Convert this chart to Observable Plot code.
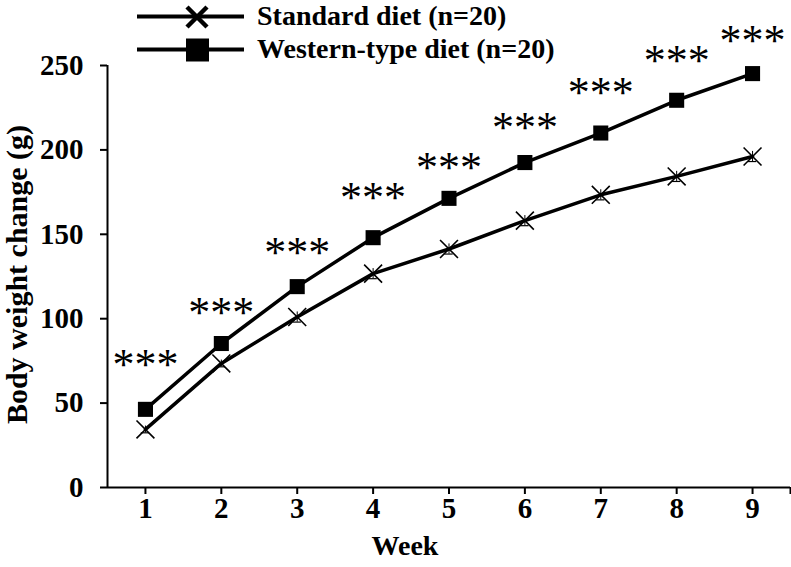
<!DOCTYPE html>
<html><head><meta charset="utf-8">
<script src="https://cdn.jsdelivr.net/npm/d3@7"></script>
<script src="https://cdn.jsdelivr.net/npm/@observablehq/plot@0.6"></script>
<style>
body{margin:0;background:#fff;}
#wrap{position:relative;width:791px;height:567px;}
#legend{position:absolute;left:0;top:0;font-family:"Liberation Serif","Times New Roman",serif;font-weight:bold;font-size:28px;color:#000;}
.row{position:absolute;left:137px;height:33px;display:flex;align-items:center;white-space:nowrap;}
.row span{margin-left:13px;}
</style></head>
<body><div id="wrap"><div id="chart"></div><div id="legend"></div></div>
<script>
const weeks = [1, 2, 3, 4, 5, 6, 7, 8, 9];
const standard = [34.4, 73.5, 101, 126.7, 141.3, 158.1, 173.4, 184.3, 196.1];
const western = [46.3, 85.3, 119, 148, 171.3, 192.5, 210, 229.4, 245.2];
const standardSE = [2, 2, 3, 3, 3, 3, 3, 3, 3];
const sigLabel = "***";
const sigY = [76.6, 107.7, 143, 176, 193.6, 217.4, 238, 256.8, 268.6];
const yTicks = [0, 50, 100, 150, 200, 250];
const seriesNames = ["Standard diet (n=20)", "Western-type diet (n=20)"];
const xLabel = "Week";
const yLabel = "Body weight change (g)";

const rows = weeks.flatMap((w, i) => [
  {week: w, value: standard[i], se: standardSE[i], series: seriesNames[0]},
  {week: w, value: western[i], se: 0, series: seriesNames[1]}
]);
const stdRows = rows.filter(d => d.series === seriesNames[0]);
const wstRows = rows.filter(d => d.series === seriesNames[1]);
const sigRows = weeks.map((w, i) => ({week: w, y: sigY[i]}));
const capHalf = 0.055;

const chart = Plot.plot({
  width: 791,
  height: 567,
  marginLeft: 107,
  marginRight: 1,
  marginTop: 65,
  marginBottom: 80,
  style: {fontFamily: '"Liberation Serif","Times New Roman",serif', fontSize: "29px", fontWeight: "bold", color: "#000", background: "#fff"},
  x: {type: "linear", domain: [0.5, 9.5]},
  y: {type: "linear", domain: [0, 250]},
  marks: [
    Plot.ruleX([0.5], {y1: 0, y2: 250, strokeWidth: 2}),
    Plot.ruleY([0], {x1: 0.5, x2: 9.5, strokeWidth: 2}),
    Plot.axisY({ticks: yTicks, tickSize: 7, tickPadding: 17, label: null, strokeWidth: 2, fontSize: 29}),
    Plot.axisX({ticks: [...weeks, 9.5], tickFormat: d => weeks.includes(d) ? String(d) : "", tickSize: 7, tickPadding: 3, label: null, strokeWidth: 2, fontSize: 29}),
    Plot.text([xLabel], {frameAnchor: "bottom", textAnchor: "middle", dx: -44, dy: 67, lineAnchor: "bottom", fontSize: 28}),
    Plot.text([yLabel], {frameAnchor: "left", textAnchor: "middle", dx: -90, dy: -2, rotate: -90, fontSize: 30}),
    Plot.ruleX(stdRows, {x: "week", y1: d => d.value - d.se, y2: d => d.value + d.se, strokeWidth: 1}),
    Plot.ruleY(stdRows, {x1: d => d.week - capHalf, x2: d => d.week + capHalf, y: d => d.value - d.se, strokeWidth: 1.2}),
    Plot.line(rows, {x: "week", y: "value", z: "series", stroke: "#000", strokeWidth: 3.5}),
    Plot.dot(stdRows, {x: "week", y: "value", symbol: "times", r: 8.2, stroke: "#000", strokeWidth: 1.6}),
    Plot.dot(wstRows, {x: "week", y: "value", symbol: "square", r: 8.5, fill: "#000", stroke: "none"}),
    Plot.text(sigRows, {x: "week", y: "y", text: () => sigLabel, fontSize: 44, fontWeight: "normal", dy: 7, ariaLabel: "significance"})
  ]
});
document.getElementById("chart").append(chart);

// legend overlay above the SVG
const legend = document.getElementById("legend");
const swatches = [
  `<path d="M50,7 L70,27 M70,7 L50,27" stroke="#000" stroke-width="4.5" fill="none"/>`,
  `<rect x="49" y="5.5" width="23" height="23" fill="#000"/>`
];
seriesNames.forEach((name, i) => {
  const row = document.createElement("div");
  row.className = "row";
  row.style.top = (i === 0 ? -0.5 : 32.5) + "px";
  row.innerHTML = `<svg width="107" height="33"><line x1="0" x2="107" y1="16.5" y2="16.5" stroke="#000" stroke-width="4"/>${swatches[i]}</svg><span>${name}</span>`;
  legend.append(row);
});
</script>
</body></html>
